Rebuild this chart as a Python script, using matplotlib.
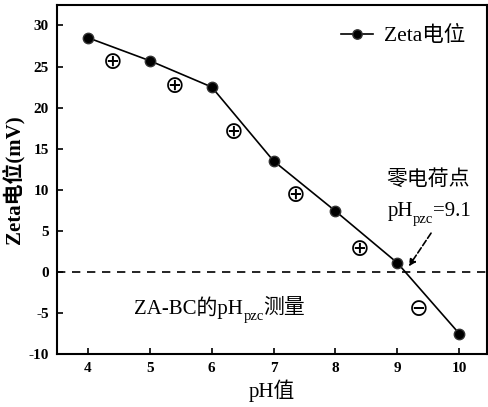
import matplotlib.pyplot as plt

plt.rcParams['font.family'] = ['Liberation Serif', 'Noto Sans CJK SC']
plt.rcParams['axes.unicode_minus'] = False

ph = [4, 5, 6, 7, 8, 9, 10]
zeta = [28.5, 25.7, 22.5, 13.5, 7.4, 1.1, -7.5]

plus_x = [4.4, 5.4, 6.35, 7.35, 8.4]
plus_y = [25.5, 22.6, 17.0, 9.4, 2.8]
minus_x = [9.35]
minus_y = [-4.5]

fig = plt.figure(figsize=(4.88, 4.07), dpi=100)
ax = fig.add_axes([0.117, 0.130, 0.881, 0.858])

ax.plot(ph, zeta, color='black', linewidth=1.2, marker='o', markersize=7.5,
        markerfacecolor='black', markeredgecolor='#333333', label='Zeta电位')
ax.axhline(0, color='black', linestyle='--', linewidth=1.2, dashes=(5, 4))

for x, y in zip(plus_x, plus_y):
    ax.text(x, y, '⊕', fontsize=17, ha='center', va='center', family=['DejaVu Sans'])
for x, y in zip(minus_x, minus_y):
    ax.text(x, y, '⊖', fontsize=17, ha='center', va='center', family=['DejaVu Sans'])

# 零电荷点 pH_pzc=9.1
ax.text(9.5, 11.2, '零电荷点', fontsize=15, ha='center', va='center')
t1 = ax.text(8.84, 7.3, 'pH', fontsize=15, ha='left', va='center')
t2 = ax.annotate('pzc', xy=(1, 0.12), xycoords=t1, fontsize=10.5, ha='left', va='center')
ax.annotate('=9.1', xy=(1, 0.5), xycoords=(t2, t1), fontsize=15, ha='left', va='center')
ax.annotate('', xy=(9.16, 0.4), xytext=(9.57, 5.0),
            arrowprops=dict(arrowstyle='-|>', linestyle='--', color='black', lw=1.2,
                            mutation_scale=10))

# ZA-BC的pH_pzc测量
s1 = ax.text(4.75, -4.4, 'ZA-BC的pH', fontsize=15, ha='left', va='center')
s2 = ax.annotate('pzc', xy=(1, 0.12), xycoords=s1, fontsize=10.5, ha='left', va='center')
ax.annotate('测量', xy=(1, 0.5), xycoords=(s2, s1), fontsize=15, ha='left', va='center')

ax.set_xlim(3.5, 10.45)
ax.set_ylim(-10, 32.5)
ax.set_xticks(ph)
ax.set_yticks([-10, -5, 0, 5, 10, 15, 20, 25, 30])
ax.tick_params(direction='in', length=4, width=1.2, labelsize=11, pad=6)
for lab in ax.get_xticklabels() + ax.get_yticklabels():
    lab.set_fontweight('bold')
for sp in ax.spines.values():
    sp.set_linewidth(1.5)

ax.set_xlabel('pH值', fontsize=15, labelpad=3)
ax.set_ylabel('Zeta电位(mV)', fontsize=15, fontweight='bold', labelpad=3)

ax.legend(loc='upper right', frameon=False, fontsize=15.5, handlelength=1.5,
          handletextpad=0.5, borderaxespad=0.6, markerscale=0.9)

fig.savefig('out.png', dpi=100)
